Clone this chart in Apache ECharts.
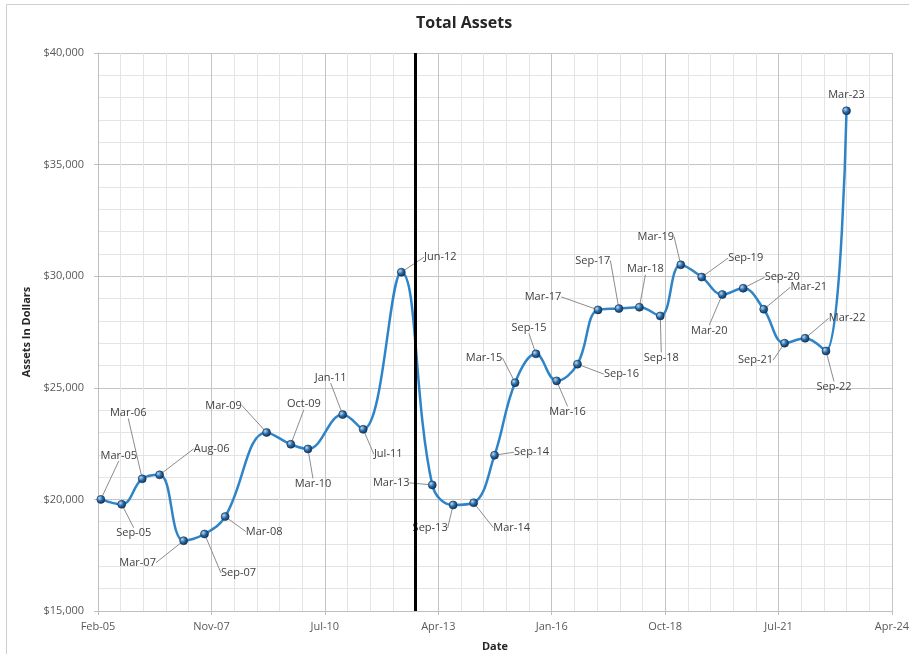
<!DOCTYPE html>
<html>
<head>
<meta charset="utf-8">
<script src="https://cdn.jsdelivr.net/npm/echarts@6/dist/echarts.min.js"></script>
<style>
  html, body { margin: 0; padding: 0; background: #ffffff; }
  #chart { width: 918px; height: 654px; }
</style>
</head>
<body>
<div id="chart"></div>
<script>
// ---- Data ----
const pointDates = [
  '2005-03','2005-09','2006-03','2006-08','2007-03','2007-09','2008-03','2009-03',
  '2009-10','2010-03','2011-01','2011-07','2012-06','2013-03','2013-09','2014-03',
  '2014-09','2015-03','2015-09','2016-03','2016-09','2017-03','2017-09','2018-03',
  '2018-09','2019-03','2019-09','2020-03','2020-09','2021-03','2021-09','2022-03',
  '2022-09','2023-03'
];
const assetValues = [
  20000, 19780, 20920, 21100, 18150, 18450, 19230, 23000,
  22470, 22260, 23800, 23140, 30180, 20650, 19750, 19850,
  21980, 25230, 26520, 25310, 26060, 28490, 28550, 28610,
  28220, 30510, 29960, 29180, 29460, 28520, 27000, 27220,
  26650, 37410
];
const xTickLabels = ['Feb-05','Nov-07','Jul-10','Apr-13','Jan-16','Oct-18','Jul-21','Apr-24'];
const axisStartDate = '2005-02-04';
const dividerDate = '2012-10-01';
const yTicks = [15000, 20000, 25000, 30000, 35000, 40000];

// ---- Layout (label offsets from each point, px) ----
const labelOffsets = [
  [18,-44],[12,29],[-14,-66],[52,-26],[-46,22],[34,39],[39,15],[-43,-27],
  [13,-40],[5,35],[-12,-37],[25,25],[39,-15],[-41,-2],[-23,23],[38,25],
  [37,-3],[-31,-25],[-7,-26],[11,31],[44,10],[-55,-13],[-26,-48],[6,-38],
  [1,42],[-25,-28],[44,-19],[-13,36],[39,-11],[45,-22],[-29,17],[42,-20],
  [8,36],[0,-16]
];

const MONTHS = ['Jan','Feb','Mar','Apr','May','Jun','Jul','Aug','Sep','Oct','Nov','Dec'];
const DAY = 86400000;
function toUTC(s) {
  const p = s.split('-').map(Number);
  return Date.UTC(p[0], p[1] - 1, p[2] || 1);
}
const startMs = toUTC(axisStartDate);
function dayOffset(s) { return Math.round((toUTC(s) - startMs) / DAY); }
function monLabel(s) {
  const p = s.split('-').map(Number);
  return MONTHS[p[1] - 1] + '-' + String(p[0] % 100).padStart(2, '0');
}

const TICK_DAYS = 1000;
const seriesData = pointDates.map((d, i) => ({
  value: [dayOffset(d), assetValues[i]],
  name: monLabel(d),
  labelLine: { show: i !== pointDates.length - 1 }
}));

const FONT = '"Open Sans", "Noto Sans", sans-serif';

const chart = echarts.init(document.getElementById('chart'), null, { renderer: 'canvas' });
chart.setOption({
  backgroundColor: '#ffffff',
  animation: false,
  title: {
    text: 'Total Assets',
    left: 416,
    top: 15,
    padding: 0,
    textStyle: { fontFamily: FONT, fontWeight: 'bold', fontSize: 16, color: '#262626' }
  },
  graphic: [
    { type: 'polyline', silent: true,
      shape: { points: [[6.5, 654], [6.5, 4.5], [909, 4.5]] },
      style: { stroke: '#cfcfcf', lineWidth: 1, fill: null } }
  ],
  grid: { left: 98, right: 26, top: 53, bottom: 43, containLabel: false, outerBoundsMode: 'none' },
  xAxis: {
    type: 'value',
    min: 0,
    max: TICK_DAYS * (xTickLabels.length - 1),
    interval: TICK_DAYS,
    name: 'Date',
    nameLocation: 'middle',
    nameGap: 30,
    nameTextStyle: { fontFamily: FONT, fontWeight: 'bold', fontSize: 11, color: '#262626' },
    axisLine: { show: true, lineStyle: { color: '#bfbfbf', width: 1 } },
    axisTick: { show: true, length: 4, lineStyle: { color: '#bfbfbf' } },
    axisLabel: {
      margin: 10,
      fontFamily: FONT, fontSize: 11, color: '#595959',
      formatter: v => xTickLabels[Math.round(v / TICK_DAYS)] || ''
    },
    splitLine: { show: true, lineStyle: { color: '#c4c4c4', width: 1 } },
    minorTick: { show: false, splitNumber: 5 },
    minorSplitLine: { show: true, lineStyle: { color: '#e4e4e4', width: 1 } }
  },
  yAxis: {
    type: 'value',
    min: yTicks[0],
    max: yTicks[yTicks.length - 1],
    interval: yTicks[1] - yTicks[0],
    name: 'Assets In Dollars',
    nameLocation: 'middle',
    nameGap: 56,
    nameRotate: 90,
    nameTextStyle: { fontFamily: FONT, fontWeight: 'bold', fontSize: 11, color: '#262626' },
    axisLine: { show: true, lineStyle: { color: '#bfbfbf', width: 1 } },
    axisTick: { show: true, length: 4, lineStyle: { color: '#bfbfbf' } },
    axisLabel: {
      margin: 14,
      fontFamily: FONT, fontSize: 11, color: '#595959',
      formatter: v => '$' + v.toLocaleString('en-US')
    },
    splitLine: { show: true, lineStyle: { color: '#c4c4c4', width: 1 } },
    minorTick: { show: false, splitNumber: 5 },
    minorSplitLine: { show: true, lineStyle: { color: '#e4e4e4', width: 1 } }
  },
  series: [{
    type: 'line',
    data: seriesData,
    smooth: 0.4,
    symbol: 'circle',
    symbolSize: 8,
    lineStyle: { color: '#2f84c8', width: 2.5 },
    itemStyle: {
      color: {
        type: 'radial', x: 0.35, y: 0.35, r: 0.75,
        colorStops: [
          { offset: 0, color: '#b9dcf5' },
          { offset: 0.45, color: '#2a6aa6' },
          { offset: 1, color: '#0b2747' }
        ]
      },
      borderColor: '#0d2f52',
      borderWidth: 0.6
    },
    label: {
      show: true,
      position: 'inside',
      formatter: p => p.name,
      fontFamily: FONT, fontSize: 11, color: '#404040'
    },
    labelLine: { show: true, smooth: false, lineStyle: { color: '#8c8c8c', width: 1 } },
    labelLayout: function (params) {
      const off = labelOffsets[params.dataIndex] || [0, -14];
      const r = params.rect;
      return {
        x: r.x + r.width / 2 + off[0],
        y: r.y + r.height / 2 + off[1],
        align: 'center',
        verticalAlign: 'middle'
      };
    },
    markLine: {
      silent: true,
      symbol: ['none', 'none'],
      label: { show: false },
      lineStyle: { color: '#000000', width: 3, type: 'solid' },
      data: [{ xAxis: dayOffset(dividerDate) }]
    },
    z: 3
  }]
});
</script>
</body>
</html>
